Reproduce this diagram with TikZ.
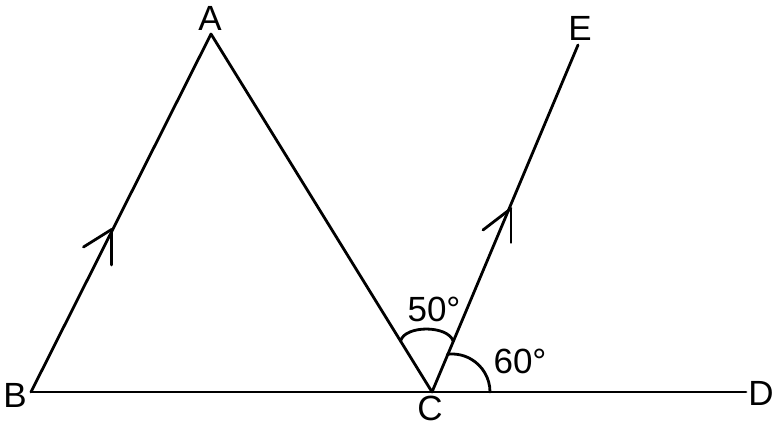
\documentclass[tikz,border=0pt]{standalone}
\usepackage{fontspec}
\setmainfont{Liberation Sans}
\begin{document}
\begin{tikzpicture}[x=1pt,y=-1pt,
  ln/.style={line width=2.8pt,line cap=round,line join=round},
  lbl/.style={font=\fontsize{35}{35}\selectfont,inner sep=0pt}]
\useasboundingbox (0,0) rectangle (778,427);
\coordinate (A) at (211,34);
\coordinate (B) at (31,392);
\coordinate (C) at (432,392);
\coordinate (D) at (746,392);
\coordinate (E) at (578,45);
\draw[ln] (B) -- (A) -- (C) -- (E);
\draw[ln] (B) -- (D);
% arrow marks
\coordinate (t1) at (111.5,229.5);
\draw[ln] (t1) -- ++(-28,17.5);
\draw[ln] (t1) -- ++(0,35.5);
\coordinate (t2) at (511,208.5);
\draw[ln] (t2) -- ++(-28,21.5);
\draw[ln] (t2) -- ++(0,34);
% angle arcs
\draw[ln] (400.6,340.9) .. controls (405,325) and (448,325) .. (453.3,341.3);
\draw[ln] (490,392) arc[start angle=0,end angle=-97,radius=38];
% labels
\node[lbl] (la) at (210,18) {A};
\node[lbl] (lb) at (15,395) {B};
\node[lbl] (lc) at (430,408) {C};
\node[lbl] (ld) at (761,393) {D};
\node[lbl] (le) at (580,28) {E};
\node[lbl] (l50) at (434,309) {50°};
\node[lbl] (l60) at (520,361) {60°};
\end{tikzpicture}
\end{document}
